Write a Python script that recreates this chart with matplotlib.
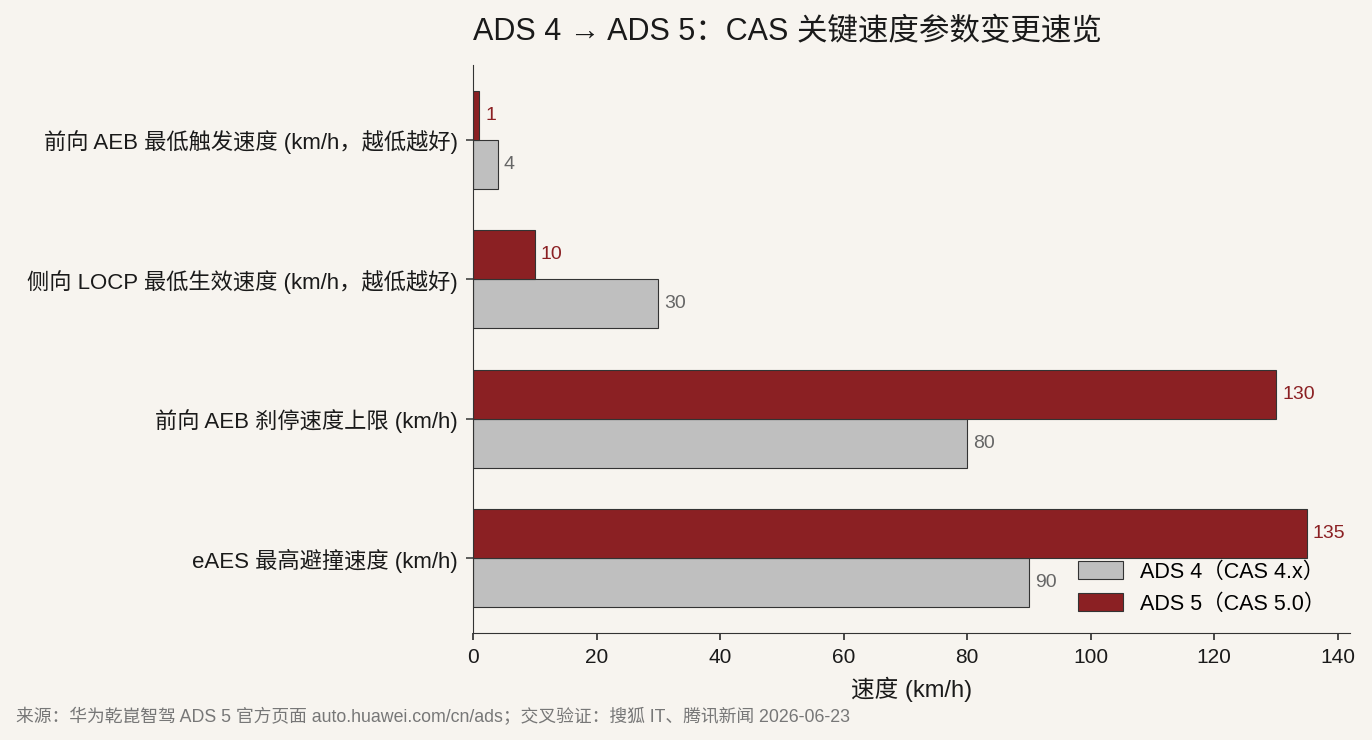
import matplotlib.pyplot as plt
import numpy as np

plt.rcParams['font.family'] = ['Liberation Sans', 'Noto Sans CJK SC', 'DejaVu Sans']

categories = [
    "前向 AEB 最低触发速度 (km/h，越低越好)",
    "侧向 LOCP 最低生效速度 (km/h，越低越好)",
    "前向 AEB 刹停速度上限 (km/h)",
    "eAES 最高避撞速度 (km/h)",
]
ads4 = [4, 30, 80, 90]
ads5 = [1, 10, 130, 135]
ads4_label = "ADS 4（CAS 4.x）"
ads5_label = "ADS 5（CAS 5.0）"

bg = '#f7f4ef'
red = '#8b2023'
grey = '#bfbfbf'

fig = plt.figure(figsize=(13.72, 7.4), dpi=100, facecolor=bg)
ax = fig.add_axes([473 / 1372, 1 - 633 / 740, 877 / 1372, 568 / 740])
ax.set_facecolor(bg)

y = np.arange(len(categories))
h = 0.35
b4 = ax.barh(y + h / 2, ads4, height=h, color=grey, edgecolor='#333333', linewidth=0.8, label=ads4_label)
b5 = ax.barh(y - h / 2, ads5, height=h, color=red, edgecolor='#333333', linewidth=0.8, label=ads5_label)

for rect, v in zip(b4, ads4):
    ax.text(v + 1, rect.get_y() + rect.get_height() / 2, str(v), va='center', ha='left',
            fontsize=14, color='#666666')
for rect, v in zip(b5, ads5):
    ax.text(v + 1, rect.get_y() + rect.get_height() / 2, str(v), va='center', ha='left',
            fontsize=14, color=red)

ax.set_yticks(y)
ax.set_yticklabels(categories, fontsize=16, color='#1a1a1a')
ax.invert_yaxis()
ax.set_xlim(0, 142)
ax.set_xticks([0, 20, 40, 60, 80, 100, 120, 140])
ax.tick_params(axis='both', length=5, width=1.1, color='#333333')
ax.tick_params(axis='x', labelsize=15, colors='#1a1a1a', pad=6)
ax.tick_params(axis='y', pad=6)
ax.set_xlabel("速度 (km/h)", fontsize=17, color='#1a1a1a', labelpad=7)
ax.spines['top'].set_visible(False)
ax.spines['right'].set_visible(False)
for s in ['left', 'bottom']:
    ax.spines[s].set_color('#333333')

ax.set_title("ADS 4 → ADS 5：CAS 关键速度参数变更速览", fontsize=22, color='#1a1a1a', pad=18, loc='left')

handles, labels = ax.get_legend_handles_labels()
leg = ax.legend(handles, labels, loc='lower right', bbox_to_anchor=(1 - 6 / 877, 0),
                frameon=False, fontsize=15.5, handlelength=2.1, handleheight=0.9,
                handletextpad=0.8, borderaxespad=0.45)
leg.set_zorder(10)

fig.text(16 / 1372, 1 - 717 / 740, "来源：华为乾崑智驾 ADS 5 官方页面 auto.huawei.com/cn/ads；交叉验证：搜狐 IT、腾讯新闻 2026-06-23",
         fontsize=12.8, color='#777777', va='center', ha='left')

fig.savefig('out.png', dpi=100, facecolor=bg)
